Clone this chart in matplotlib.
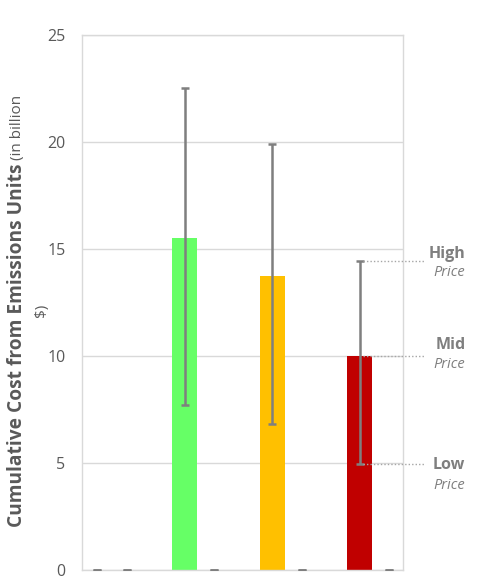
import matplotlib
matplotlib.use('Agg')
import matplotlib.pyplot as plt
import numpy as np

plt.rcParams['font.family'] = ['Open Sans', 'DejaVu Sans']

# data
groups = np.arange(4)
price_mid = [0, 15.5, 13.75, 10.0]
price_low = [0, 7.7, 6.8, 4.95]
price_high = [0, 22.5, 19.9, 14.45]
second_series = [0, 0, 0, 0]
bar_colors = ['#66FF66', '#66FF66', '#FFC000', '#C00000']
yticks = [0, 5, 10, 15, 20, 25]

W, H = 481, 579
fig = plt.figure(figsize=(W / 100, H / 100), dpi=100)
ax = fig.add_axes([82 / W, 1 - 570 / H, (403 - 82) / W, (570 - 35) / H])

off = 0.171
width = 0.286
x1 = groups - off
x2 = groups + off

ax.bar(x1, price_mid, width=width, color=bar_colors, zorder=2)
ax.bar(x2, second_series, width=width, color='#A5A5A5', zorder=2)

err_lo = np.array(price_mid) - np.array(price_low)
err_hi = np.array(price_high) - np.array(price_mid)
ax.errorbar(x1, price_mid, yerr=[err_lo, err_hi], fmt='none', ecolor='#7F7F7F',
            elinewidth=1.8, capsize=2.9, capthick=1.8, zorder=3)
ax.errorbar(x2, second_series, yerr=[second_series, second_series], fmt='none',
            ecolor='#7F7F7F', elinewidth=1.8, capsize=2.9, capthick=1.8, zorder=3)

ax.set_xlim(-0.343, 3.326)
ax.set_ylim(0, 25)
ax.set_yticks(yticks)
ax.set_xticks([])
ax.tick_params(axis='y', length=0, pad=12, labelsize=11.5, labelcolor='#595959')
ax.grid(axis='y', color='#D9D9D9', linewidth=1, zorder=0)
for s in ax.spines.values():
    s.set_color('#D9D9D9')
    s.set_linewidth(1)

# price level markers on the right
red = 3
xa = x1[red] + 0.04
xb = x1[red] + 0.75
labels = [('High', price_high[red], 7, -12),
          ('Mid', price_mid[red], 11, -9),
          ('Low', price_low[red], -1, -21)]
for name, val, up, down in labels:
    ax.plot([xa, xb], [val, val], ls=(0, (1, 1.5)), color='#A6A6A6', lw=1,
            clip_on=False, zorder=4)
    ax.annotate(name, (xb, val), xytext=(29, up * 0.72), textcoords='offset points',
                ha='right', va='center', fontsize=11.5, fontweight='bold',
                color='#7F7F7F', annotation_clip=False)
    ax.annotate('Price', (xb, val), xytext=(29, down * 0.72), textcoords='offset points',
                ha='right', va='center', fontsize=10.5, fontstyle='italic',
                color='#7F7F7F', annotation_clip=False)

# y label in two sizes
fig.text(22 / W, 1 - 527 / H, 'Cumulative Cost from Emissions Units', rotation=90,
         rotation_mode='anchor', ha='left', va='baseline', fontsize=13.8,
         fontweight='bold', color='#595959')
fig.text(21 / W, 1 - 95 / H, '(in billion', rotation=90, rotation_mode='anchor',
         ha='right', va='baseline', fontsize=11, color='#595959')
fig.text(45 / W, 1 - 310 / H, '$)', rotation=90, rotation_mode='anchor',
         ha='center', va='baseline', fontsize=11, color='#595959')

fig.savefig('out.png', dpi=100)
